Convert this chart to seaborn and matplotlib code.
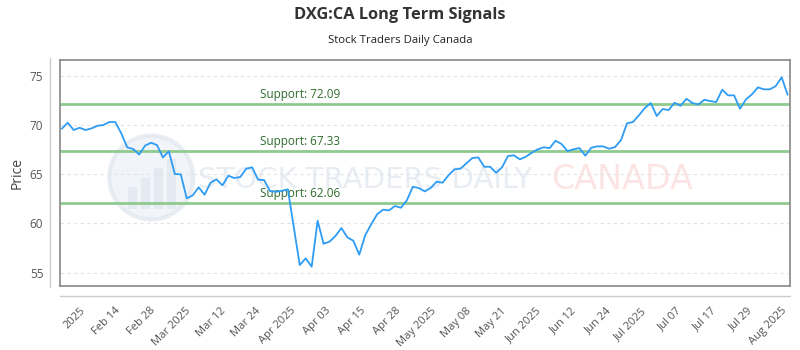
import numpy as np
import pandas as pd
import matplotlib
matplotlib.use("Agg")
import matplotlib.pyplot as plt
from matplotlib.lines import Line2D
from matplotlib.patches import Ellipse, Rectangle
import seaborn as sns

# ---- data ----
prices = [
    69.62, 70.23, 69.49, 69.72, 69.49, 69.66, 69.92, 70.0, 70.3, 70.3,
    69.15, 67.73, 67.56, 67.0, 67.9, 68.2, 67.96, 66.71, 67.32, 65.02,
    64.99, 62.55, 62.85, 63.67, 62.92, 64.14, 64.48, 63.87, 64.85, 64.61,
    64.72, 65.56, 65.70, 64.44, 64.41, 63.29, 63.22, 63.32, 63.47,
    59.6,
    55.78, 56.46, 55.61, 60.28, 57.94, 58.15, 58.73, 59.54, 58.59, 58.25,
    56.83, 58.80, 59.91, 60.93, 61.40, 61.33, 61.77, 61.60, 62.35, 63.73, 63.60,
    63.26, 63.6, 64.24, 64.14, 64.89, 65.5, 65.56, 66.1, 66.64, 66.71,
    65.76, 65.76, 65.15, 65.70, 66.85, 66.92, 66.51, 66.78, 67.18, 67.53,
    67.73, 67.66, 68.40, 68.07, 67.35, 67.53, 67.66, 66.88, 67.69, 67.83,
    67.83, 67.59, 67.76, 68.47, 70.17, 70.30, 70.98, 71.72, 72.23,
    70.91, 71.62, 71.52, 72.26, 71.95, 72.66, 72.23, 72.09, 72.56, 72.43,
    72.33, 73.58, 73.01, 73.01, 71.65, 72.6, 73.11, 73.82, 73.62, 73.62,
    73.95, 74.84, 73.07,
]
supports = [72.09, 67.33, 62.06]
tick_labels = ["2025", "Feb 14", "Feb 28", "Mar 2025", "Mar 12", "Mar 24",
               "Apr 2025", "Apr 03", "Apr 15", "Apr 28", "May 2025", "May 08",
               "May 21", "Jun 2025", "Jun 12", "Jun 24", "Jul 2025", "Jul 07",
               "Jul 17", "Jul 29", "Aug 2025"]
y_ticks = [55, 60, 65, 70, 75]

df = pd.DataFrame({"idx": np.arange(len(prices)), "price": prices})

sns.set_theme(style="white")
plt.rcParams['font.family'] = ['Open Sans', 'DejaVu Sans']

fig = plt.figure(figsize=(8, 3.5), dpi=100)
ax = fig.add_axes([60/800, 1-286/350, 730/800, 226/350])

# watermark
ax.add_patch(Ellipse((0.125, 0.48), 84/730, 84/226, transform=ax.transAxes, facecolor='#e8eff7',
                     edgecolor='#dde4ed', lw=3, alpha=0.6, zorder=0))
for i, h in enumerate([0.10, 0.14, 0.18, 0.22]):
    ax.add_patch(Rectangle((0.093 + i*0.018, 0.34), 0.012, h, transform=ax.transAxes,
                           facecolor='#dce4ee', edgecolor='none', alpha=0.6, zorder=0))
ax.text(0.418, 0.47, "STOCK TRADERS DAILY", transform=ax.transAxes, ha='center', va='center',
        fontsize=21, color='#e3e8f0', alpha=0.8, zorder=0, family=['DejaVu Sans'])
ax.text(0.77, 0.47, "CANADA", transform=ax.transAxes, ha='center', va='center',
        fontsize=24, color='#fcdcdc', alpha=0.75, zorder=0, family=['DejaVu Sans'])

for v in y_ticks:
    ax.axhline(v, color='#e3e3e3', lw=0.8, ls=(0, (3, 3)), zorder=0.5)

for s in supports:
    ax.axhline(s, color='#8fca8f', lw=2, zorder=1)
    ax.text(33.3, s + 0.35, f"Support: {s:.2f}", color='#2e6b2e', fontsize=8.5,
            ha='left', va='bottom', zorder=2)

sns.lineplot(data=df, x="idx", y="price", ax=ax, color='#2e9cf4', lw=1.3, zorder=3)

ax.set_xlim(-0.3, 122.4)
ax.set_ylim(53.65, 76.6)
ax.set_yticks(y_ticks)
ax.set_xticks(np.linspace(3, 121, len(tick_labels)))
ax.set_xticklabels(tick_labels, rotation=45, ha='right', rotation_mode='anchor')
ax.tick_params(axis='x', length=0, pad=14, labelsize=8, labelcolor='#555555')
ax.tick_params(axis='y', length=0, pad=12, labelsize=8.5, labelcolor='#555555')
ax.set_xlabel("")
ax.set_ylabel("Price", fontsize=10, color='#444444', labelpad=4)

for sp in ax.spines.values():
    sp.set_visible(True)
    sp.set_color('#888888')
    sp.set_linewidth(1.2)

# offset axis lines
fig.add_artist(Line2D([50/800, 50/800], [1-287/350, 1-58/350], color='#cccccc', lw=1))
fig.add_artist(Line2D([60/800, 790/800], [1-296/350, 1-296/350], color='#cccccc', lw=1))

fig.text(0.5, 1-15/350, "DXG:CA Long Term Signals", ha='center', va='center',
         fontsize=11.8, fontweight='bold', color='#333333')
fig.text(0.5, 1-40/350, "Stock Traders Daily Canada", ha='center', va='center',
         fontsize=8.2, color='#222222')

fig.savefig("out.png", dpi=100)
